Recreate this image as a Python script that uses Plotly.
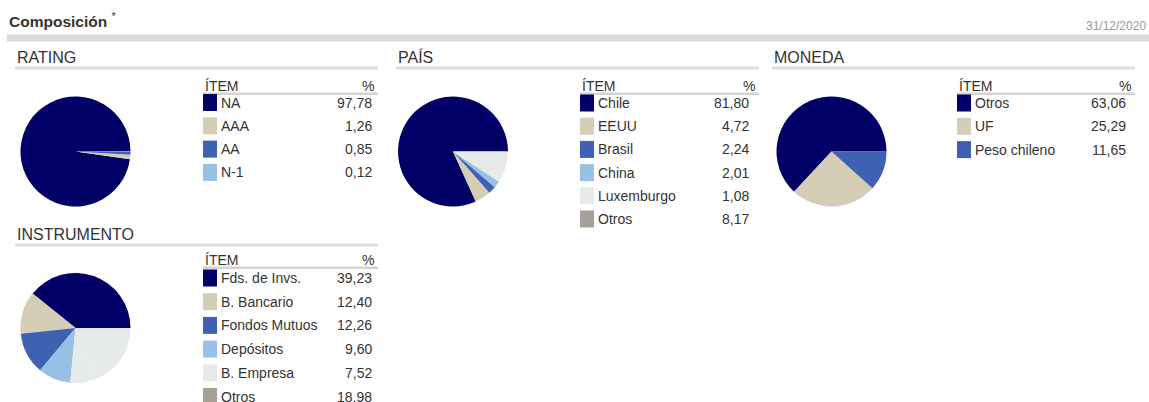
import plotly.graph_objects as go

W, H = 1149, 402

# ---------------- data ----------------
rating_labels = ["NA", "AAA", "AA", "N-1"]
rating_values = [97.78, 1.26, 0.85, 0.12]

pais_labels = ["Chile", "EEUU", "Brasil", "China", "Luxemburgo", "Otros"]
pais_values = [81.80, 4.72, 2.24, 2.01, 1.08, 8.17]

moneda_labels = ["Otros", "UF", "Peso chileno"]
moneda_values = [63.06, 25.29, 11.65]

instr_labels = ["Fds. de Invs.", "B. Bancario", "Fondos Mutuos", "Depósitos", "B. Empresa", "Otros"]
instr_values = [39.23, 12.40, 12.26, 9.60, 7.52, 18.98]

title_text = "Composición"
date_text = "31/12/2020"

# ---------------- styles ----------------
legend_colors = ["#000066", "#D5CDB5", "#3E62B1", "#98C1E5", "#E6EBEA", "#A89F96"]
pie_colors = ["#000066", "#D5CDB5", "#3E62B1", "#98C1E5", "#E6EBEA", "#E6EBEA"]
FONT = "Liberation Sans, Arial, Helvetica, sans-serif"
TXT = "#333333"

# panel layout: (name, labels, values, section_x, heading_y, pie_cx, pie_cy, leg_x, leg_val_x, header_y, first_off, row)
panels = [
    ("RATING", rating_labels, rating_values, 15, 57, 75.5, 151.5, 203, 374, 86, 16.5, 23.3),
    ("PAÍS", pais_labels, pais_values, 396, 57, 453, 151.5, 580, 751, 86, 17, 23.2),
    ("MONEDA", moneda_labels, moneda_values, 772, 57, 831.5, 151.5, 957, 1128, 86, 17, 23.3),
    ("INSTRUMENTO", instr_labels, instr_values, 15, 234, 75.5, 328, 203, 374, 260, 18, 23.7),
]
SEC_W = 363
R = 55

fig = go.Figure()
shapes = []
annotations = []


def fmt(v):
    return f"{v:.2f}".replace(".", ",")


for name, labels, values, sx, hy, cx, cy, lx, vx, hdy, off, row in panels:
    # first slice starts at 3 o'clock and runs counterclockwise
    first_angle = 360.0 * values[0] / sum(values)
    fig.add_trace(go.Pie(
        labels=labels, values=values, sort=False,
        direction="counterclockwise", rotation=90 - first_angle,
        marker=dict(colors=pie_colors[:len(values)], line=dict(width=0)),
        textinfo="none", hoverinfo="label+percent", showlegend=False,
        domain=dict(x=[(cx - R) / W, (cx + R) / W], y=[1 - (cy + R) / H, 1 - (cy - R) / H]),
    ))
    # section heading
    annotations.append(dict(x=sx, y=hy, text=name, xanchor="left", yanchor="middle",
                            showarrow=False, font=dict(family=FONT, size=16, color=TXT)))
    shapes.append(dict(type="rect", x0=sx, x1=sx + SEC_W, y0=hy + 9.5, y1=hy + 12.5,
                       fillcolor="#DEDEDE", line=dict(width=0)))
    # legend header
    annotations.append(dict(x=lx, y=hdy, text="ÍTEM", xanchor="left", yanchor="middle",
                            showarrow=False, font=dict(family=FONT, size=14, color=TXT)))
    annotations.append(dict(x=sx + SEC_W - 2, y=hdy, text="%", xanchor="right", yanchor="middle",
                            showarrow=False, font=dict(family=FONT, size=14, color=TXT)))
    shapes.append(dict(type="rect", x0=lx, x1=sx + SEC_W, y0=hdy + 6.5, y1=hdy + 9,
                       fillcolor="#D3D3D3", line=dict(width=0)))
    for i, (lab, val) in enumerate(zip(labels, values)):
        ry = hdy + off + i * row
        shapes.append(dict(type="rect", x0=lx, x1=lx + 14, y0=ry - 8.5, y1=ry + 8.5,
                           fillcolor=legend_colors[i], line=dict(width=0)))
        annotations.append(dict(x=lx + 16, y=ry, text=lab, xanchor="left", yanchor="middle",
                                showarrow=False, font=dict(family=FONT, size=14, color=TXT)))
        annotations.append(dict(x=vx, y=ry, text=fmt(val), xanchor="right", yanchor="middle",
                                showarrow=False, font=dict(family=FONT, size=14, color=TXT)))

# title, date, top bar
annotations.append(dict(x=7, y=20, text=f"<b>{title_text}</b> <sup>*</sup>", xanchor="left",
                        yanchor="middle", showarrow=False,
                        font=dict(family=FONT, size=15.5, color=TXT)))
annotations.append(dict(x=1148, y=26, text=date_text, xanchor="right", yanchor="middle",
                        showarrow=False, font=dict(family=FONT, size=12, color="#9A9A9A")))
shapes.append(dict(type="rect", x0=7, x1=1149, y0=34.5, y1=41.5,
                   fillcolor="#D9D9D9", line=dict(width=0)))

fig.update_layout(
    width=W, height=H, margin=dict(l=0, r=0, t=0, b=0),
    paper_bgcolor="white", plot_bgcolor="white",
    xaxis=dict(range=[0, W], visible=False, fixedrange=True, domain=[0, 1]),
    yaxis=dict(range=[H, 0], visible=False, fixedrange=True, domain=[0, 1]),
    shapes=[dict(s, xref="x", yref="y", layer="below") for s in shapes],
    annotations=[dict(a, xref="x", yref="y") for a in annotations],
    showlegend=False,
)

fig.write_html("out.html", config={"displayModeBar": False},
               post_script="document.body.style.margin='0px';document.body.style.overflow='hidden';")
